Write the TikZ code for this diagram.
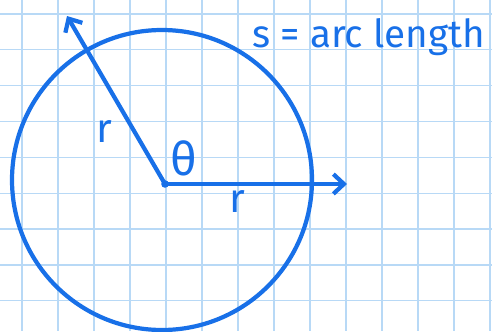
\documentclass[tikz,border=0pt]{standalone}
\usepackage{fontspec}
\setmainfont{Fira Sans}
\usetikzlibrary{arrows.meta}
\definecolor{ink}{RGB}{24,112,232}
\definecolor{paper}{RGB}{184,217,246}

\tikzset{
  gridline/.style={paper, line width=1.8pt},
  vec/.style={ink, line width=6pt, line cap=round, -{Straight Barb[length=15pt, width=28pt, line width=6pt]}},
  hand/.style={ink, font=\fontsize{58}{66}\selectfont, inner sep=0pt}
}

\begin{document}
\begin{tikzpicture}[x=0.05cm, y=-0.05cm]
        \useasboundingbox (0,0) rectangle (492,331);
        \fill[white] (0,0) rectangle (492,331);
        \foreach \k in {0,...,13}
            \draw[gridline] (22+36*\k,0) -- (22+36*\k,331);
        \foreach \k in {0,...,8}
            \draw[gridline] (0,14+35.85*\k) -- (492,14+35.85*\k);

        \draw[ink, line width=6pt] (162,180) circle (150);

        \coordinate (O) at (165,184);
        \coordinate (tipR) at (347,184);
        \coordinate (tipU) at (67,16);
        \draw[vec] (O) -- (tipR);
        \draw[vec] (O) -- (tipU);
        \fill[ink] (O) circle (3.8);

        \node[hand] (rU) at (104,132) {r};
        \node[hand, font=\fontsize{66}{70}\selectfont] (th) at (184,158) {θ};
        \node[hand] (rR) at (237,202) {r};
        \node[hand, font=\fontsize{55}{62}\selectfont, anchor=base west] (arc) at (252,47) {s = arc length};
\end{tikzpicture}
\end{document}
